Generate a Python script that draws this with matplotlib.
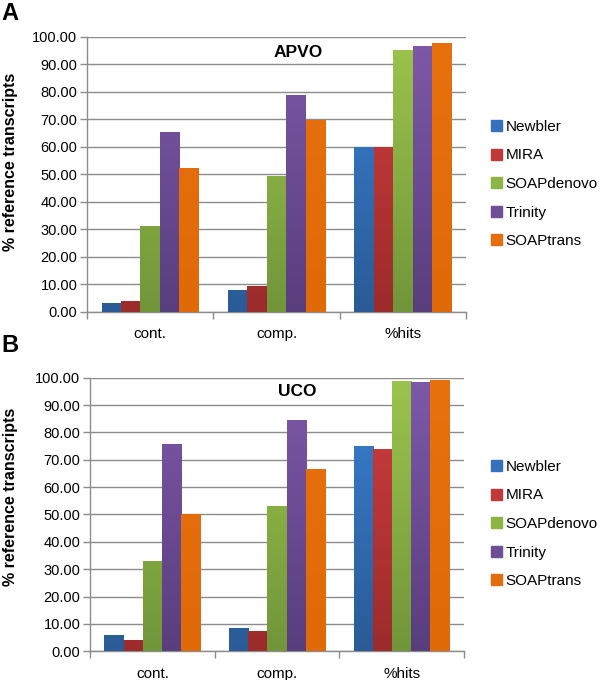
import numpy as np
import matplotlib
matplotlib.use("Agg")
import matplotlib.pyplot as plt
from matplotlib.colors import LinearSegmentedColormap

plt.rcParams['font.family'] = ['Liberation Sans', 'DejaVu Sans']

categories = ["cont.", "comp.", "%hits"]
assemblers = ["Newbler", "MIRA", "SOAPdenovo", "Trinity", "SOAPtrans"]

apvo_newbler = [3.1, 8.0, 60.0]
apvo_mira = [4.0, 9.4, 60.0]
apvo_soapdenovo = [31.2, 49.4, 95.4]
apvo_trinity = [65.3, 79.0, 96.6]
apvo_soaptrans = [52.4, 69.9, 97.8]

uco_newbler = [5.8, 8.6, 75.0]
uco_mira = [4.2, 7.5, 73.9]
uco_soapdenovo = [33.1, 53.2, 98.7]
uco_trinity = [75.7, 84.5, 98.3]
uco_soaptrans = [50.0, 66.7, 99.2]

yticks = [0, 10, 20, 30, 40, 50, 60, 70, 80, 90, 100]

# (top colour, bottom colour) per assembler
colors_top = ["#3a80d2", "#d03e3e", "#9cc44c", "#7e58a8", "#e8710e"]
colors_bot = ["#2a5b96", "#9c2b2b", "#71963a", "#593e7e", "#e06a08"]
legend_colors = ["#3572be", "#c03838", "#8db545", "#6f4e98", "#e46e0c"]

fig = plt.figure(figsize=(6.0, 6.8), dpi=100)

panels = [
    ("A", "APVO", [apvo_newbler, apvo_mira, apvo_soapdenovo, apvo_trinity, apvo_soaptrans],
     [0.145, 0.5416, 0.632, 0.404], 1 - 162 / 680, (298 / 600, 1 - 52.5 / 680), (9.5 / 600, 1 - 13.5 / 680),
     1 - 184 / 680),
    ("B", "UCO", [uco_newbler, uco_mira, uco_soapdenovo, uco_trinity, uco_soaptrans],
     [0.150, 0.0422, 0.6233, 0.4024], 1 - 497 / 680, (297 / 600, 1 - 392 / 680), (9.5 / 600, 1 - 345 / 680),
     1 - 524 / 680),
]

bw = 0.1536
x = np.arange(len(categories))

for letter, title, series, rect, ylab_y, title_xy, letter_xy, leg_y in panels:
    ax = fig.add_axes(rect)
    for i, vals in enumerate(series):
        bars = ax.bar(x + (i - 2) * bw, vals, width=bw, color=legend_colors[i],
                      edgecolor='none', zorder=3, label=assemblers[i])
        cmap = LinearSegmentedColormap.from_list("g%d" % i, [colors_bot[i], colors_top[i]])
        for b in bars:
            x0 = b.get_x()
            w = b.get_width()
            grad = np.linspace(0, 1, 64).reshape(-1, 1)
            im = ax.imshow(grad, extent=[x0, x0 + w, 0, 100], origin='lower',
                           cmap=cmap, aspect='auto', zorder=4)
            im.set_clip_path(b)
    ax.set_xlim(-0.5, 2.5)
    ax.set_ylim(0, 100)
    ax.set_yticks(yticks)
    ax.set_yticklabels(["%.2f" % v for v in yticks], fontsize=10.5)
    ax.grid(axis='y', color='#8c8c8c', linewidth=1.0, zorder=0)
    ax.set_axisbelow(True)
    for s in ['top', 'right']:
        ax.spines[s].set_visible(False)
    for s in ['left', 'bottom']:
        ax.spines[s].set_color('#8c8c8c')
        ax.spines[s].set_linewidth(1.0)
    ax.set_xticks(x)
    ax.set_xticklabels(categories, fontsize=11)
    ax.set_xticks([-0.5, 0.5, 1.5, 2.5], minor=True)
    ax.tick_params(axis='x', which='major', length=0, pad=11)
    ax.tick_params(axis='x', which='minor', length=5, color='#8c8c8c', width=1.0)
    ax.tick_params(axis='y', length=5, color='#8c8c8c', width=1.0, pad=2)
    fig.text(11 / 600, ylab_y, "% reference transcripts", fontsize=11.5, fontweight='bold',
             rotation=90, ha='center', va='center')
    fig.text(title_xy[0], title_xy[1], title, fontsize=12.5, fontweight='bold',
             ha='center', va='center')
    fig.text(letter_xy[0], letter_xy[1], letter, fontsize=17, fontweight='bold',
             ha='center', va='center')
    fig.legend(handles=[plt.Rectangle((0, 0), 1, 1, color=c) for c in legend_colors],
               labels=assemblers, loc='center left',
               bbox_to_anchor=(491 / 600, leg_y), frameon=False, fontsize=11,
               handlelength=0.75, handleheight=0.75, handletextpad=0.2,
               labelspacing=0.95, borderpad=0, borderaxespad=0)

fig.savefig("out.png", dpi=100)
